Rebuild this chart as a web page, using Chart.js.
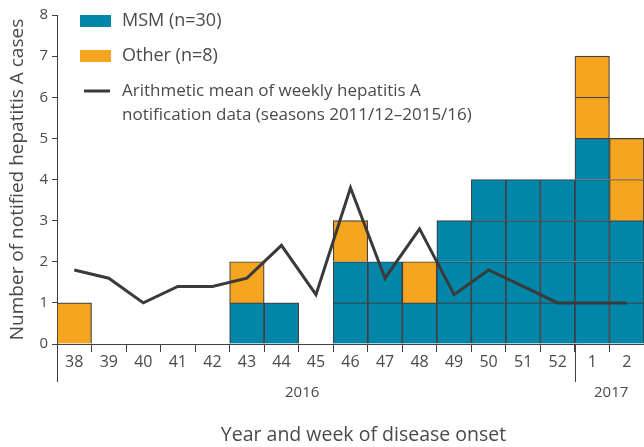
<!DOCTYPE html>
<html>
<head>
<meta charset="utf-8">
<script src="https://cdn.jsdelivr.net/npm/chart.js@4/dist/chart.umd.min.js"></script>
<style>
  body { margin: 0; background: #fff; }
  #wrap { width: 644px; height: 447px; }
</style>
</head>
<body>
<div id="wrap"><canvas id="myChart"></canvas></div>
<script>
// weeks of disease onset (2016 wk 38 .. 2017 wk 2)
var weeks = ["38", "39", "40", "41", "42", "43", "44", "45", "46", "47", "48", "49", "50", "51", "52", "1", "2"];
var msm = [0, 0, 0, 0, 0, 1, 1, 0, 2, 2, 1, 3, 4, 4, 4, 5, 3];
var other = [1, 0, 0, 0, 0, 1, 0, 0, 1, 0, 1, 0, 0, 0, 0, 2, 2];
var mean = [1.8, 1.6, 1.0, 1.4, 1.4, 1.6, 2.4, 1.2, 3.8, 1.6, 2.8, 1.2, 1.8, 1.4, 1.0, 1.0, 1.0];
var years = ["2016", "2017"];
var yTicks = [0, 1, 2, 3, 4, 5, 6, 7, 8];
var xTitle = "Year and week of disease onset";

var TEAL = "#0086a8";
var ORANGE = "#f6a520";
var INK = "#404040";
var TEXT = "#4a4a4a";

Chart.defaults.font.family = "'Open Sans', sans-serif";

function sum(a) { return a.reduce(function (s, v) { return s + v; }, 0); }

// one dataset per layer so every case is its own box
function unitLayers(values, label, color) {
  var top = Math.max.apply(null, values);
  var sets = [];
  for (var k = 1; k <= top; k++) {
    sets.push({
      type: "bar",
      label: label,
      data: values.map(function (v) { return v >= k ? 1 : null; }),
      backgroundColor: color,
      borderColor: INK,
      borderWidth: 1.2,
      stack: "cases",
      order: 1,
      categoryPercentage: 1.0,
      barPercentage: 1.0
    });
  }
  return sets;
}

var msmLabel = "MSM (n=" + sum(msm) + ")";
var otherLabel = "Other (n=" + sum(other) + ")";
var meanLabel = ["Arithmetic mean of weekly hepatitis A", "notification data (seasons 2011/12\u20132015/16)"];

var datasets = unitLayers(msm, msmLabel, TEAL).concat(unitLayers(other, otherLabel, ORANGE));
datasets.push({
  type: "line",
  label: meanLabel.join(" "),
  data: mean,
  borderColor: "#3a3a3a",
  borderWidth: 3,
  pointRadius: 0,
  tension: 0,
  fill: false,
  stack: "mean",
  order: 0
});

// legend, year labels and x title drawn on the canvas
var extras = {
  id: "extras",
  afterDraw: function (chart) {
    var ctx = chart.ctx;
    var area = chart.chartArea;
    var x = chart.scales.x;
    ctx.save();

    // legend
    var lx = area.left + 23, ty = area.top;
    ctx.textBaseline = "middle";
    ctx.textAlign = "left";
    ctx.fillStyle = TEAL;
    ctx.fillRect(lx, ty, 31, 12);
    ctx.fillStyle = ORANGE;
    ctx.fillRect(lx, ty + 35, 31, 12);
    ctx.strokeStyle = "#3a3a3a";
    ctx.lineWidth = 3;
    ctx.beginPath();
    ctx.moveTo(lx + 4, ty + 76);
    ctx.lineTo(lx + 30, ty + 76);
    ctx.stroke();
    ctx.fillStyle = TEXT;
    ctx.font = "18px 'Open Sans', sans-serif";
    ctx.fillText(msmLabel, lx + 42, ty + 6);
    ctx.fillText(otherLabel, lx + 42, ty + 41);
    ctx.font = "17px 'Open Sans', sans-serif";
    ctx.fillText(meanLabel[0], lx + 42, ty + 76);
    ctx.fillText(meanLabel[1], lx + 42, ty + 100);

    // year separators
    var brk = (x.getPixelForValue(14) + x.getPixelForValue(15)) / 2;
    ctx.strokeStyle = INK;
    ctx.lineWidth = 1;
    [area.left, brk].forEach(function (px) {
      ctx.beginPath();
      ctx.moveTo(Math.round(px) + 0.5, area.bottom);
      ctx.lineTo(Math.round(px) + 0.5, area.bottom + 38);
      ctx.stroke();
    });

    // year labels
    ctx.font = "15px 'Open Sans', sans-serif";
    ctx.textAlign = "center";
    ctx.fillText(years[0], x.getPixelForValue(6.6), area.bottom + 49);
    ctx.fillText(years[1], x.getPixelForValue(15.55), area.bottom + 49);

    // x axis title
    ctx.font = "19.5px 'Open Sans', sans-serif";
    ctx.fillText(xTitle, (area.left + area.right) / 2 + 13, area.bottom + 91);
    ctx.restore();
  }
};

var ctx = document.getElementById("myChart").getContext("2d");
var chart = new Chart(ctx, {
  data: { labels: weeks, datasets: datasets },
  plugins: [extras],
  options: {
    responsive: true,
    maintainAspectRatio: false,
    animation: false,
    layout: { padding: { top: 15, right: 0, bottom: 0, left: 0 } },
    plugins: {
      legend: { display: false },
      tooltip: { enabled: false }
    },
    scales: {
      x: {
        stacked: true,
        offset: true,
        grid: { offset: true, drawOnChartArea: false, tickLength: 8, color: INK },
        border: { color: INK },
        ticks: { color: TEXT, font: { size: 16 }, padding: 1, maxRotation: 0, autoSkip: false },
        title: { display: false },
        afterFit: function (s) { s.height = 103; }
      },
      y: {
        stacked: true,
        min: yTicks[0],
        max: yTicks[yTicks.length - 1],
        ticks: { stepSize: 1, color: TEXT, font: { size: 15 }, padding: 4 },
        grid: { drawOnChartArea: false, tickLength: 5, color: INK },
        border: { color: INK },
        title: {
          display: true,
          text: "Number of notified hepatitis A cases",
          color: TEXT,
          font: { size: 19 },
          padding: { top: 6, bottom: 0 }
        },
        afterFit: function (s) { s.width = 57; }
      }
    }
  }
});
</script>
</body>
</html>
